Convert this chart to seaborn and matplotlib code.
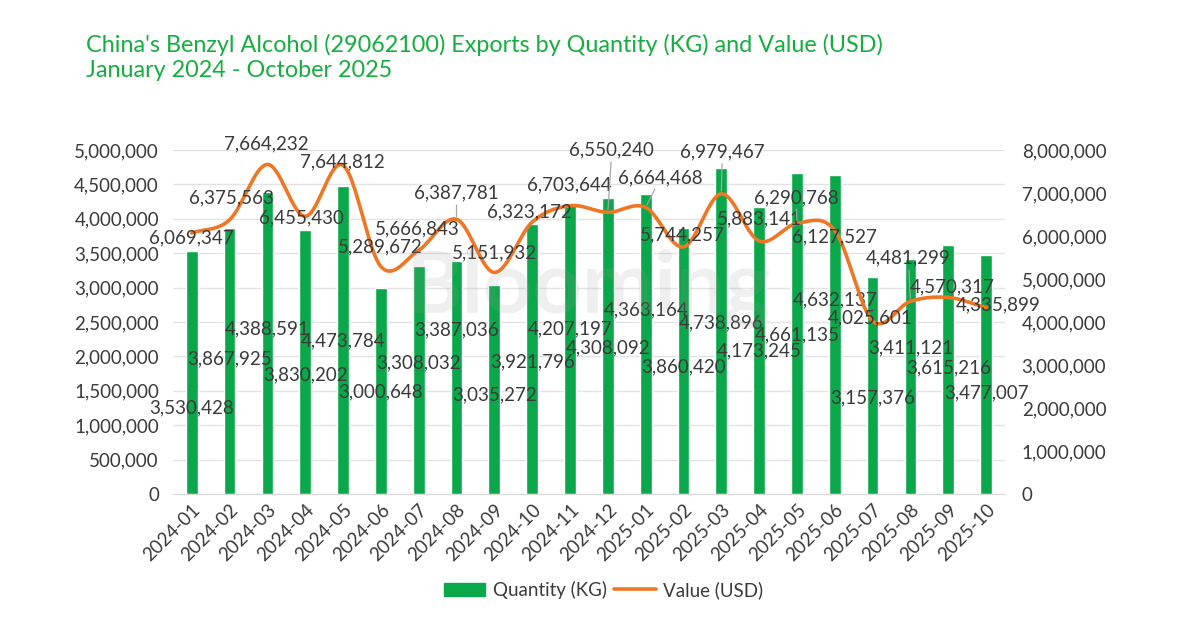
import numpy as np
import pandas as pd
import matplotlib
matplotlib.use("Agg")
import matplotlib.pyplot as plt
import seaborn as sns

# Data
months = ['2024-01', '2024-02', '2024-03', '2024-04', '2024-05', '2024-06',
          '2024-07', '2024-08', '2024-09', '2024-10', '2024-11', '2024-12',
          '2025-01', '2025-02', '2025-03', '2025-04', '2025-05', '2025-06',
          '2025-07', '2025-08', '2025-09', '2025-10']
quantity_kg = [3530428, 3867925, 4388591, 3830202, 4473784, 3000648,
               3308032, 3387036, 3035272, 3921796, 4207197, 4308092,
               4363164, 3860420, 4738896, 4173245, 4661135, 4632137,
               3157376, 3411121, 3615216, 3477007]
value_usd = [6069347, 6375563, 7664232, 6455430, 7644812, 5289672,
             5666843, 6387781, 5151932, 6323172, 6703644, 6550240,
             6664468, 5744257, 6979467, 5883141, 6290768, 6127527,
             4025601, 4481299, 4570317, 4335899]

# Label placement (layout only)
qty_label_y = [1.25e6, 1.96e6, 2.40e6, 1.73e6, 2.22e6, 1.48e6, 1.90e6, 2.38e6,
               1.44e6, 1.92e6, 2.40e6, 2.12e6, 2.67e6, 1.85e6, 2.49e6, 2.08e6,
               2.31e6, 2.82e6, 1.40e6, 2.12e6, 1.83e6, 1.47e6]
val_label_off = [(0, -5), (2, 22), (-1, 21), (-4, -1), (-1, 3), (-1, 20),
                 (-1, 21), (0, 26), (0, 20), (-3, 10), (-1, 21), (4, 62),
                 (15, 30), (-1, 12), (1, 42), (0, 22), (-1, 26), (0, -6),
                 (-2, 3), (-2, 43), (4, 11), (12, 3)]

GREEN = '#0AA84A'
ORANGE = '#EF7624'
TEXT = '#3A3A3A'

sns.set_style('white')
plt.rcParams['font.family'] = ['Lato', 'DejaVu Sans']

df = pd.DataFrame({'month': months, 'quantity': quantity_kg, 'value': value_usd})

fig = plt.figure(figsize=(12, 6.21), dpi=100)
ax = fig.add_axes([0.144, 0.2045, 0.6935, 0.554])

sns.barplot(data=df, x='month', y='quantity', color=GREEN, width=0.31,
            saturation=1, ax=ax, zorder=2)
ax.set_ylim(0, 5e6)
ax.set_xlim(-0.5, len(months) - 0.5)
ax.set_yticks(np.arange(0, 5e6 + 1, 5e5))
ax.yaxis.set_major_formatter(matplotlib.ticker.FuncFormatter(lambda v, p: f'{v:,.0f}'))
ax.grid(axis='y', color='#E3E3E3', linewidth=1, zorder=0)
ax.set_axisbelow(True)
ax.set_xlabel('')
ax.set_ylabel('')
for s in ['top', 'right', 'left']:
    ax.spines[s].set_visible(False)
ax.spines['bottom'].set_color('#D9D9D9')
ax.tick_params(axis='y', length=0, labelsize=13.5, labelcolor=TEXT, pad=10)
ax.tick_params(axis='x', length=0, labelsize=13.5, labelcolor=TEXT, pad=5)
for lab in ax.get_xticklabels():
    lab.set_rotation(45)
    lab.set_ha('right')
    lab.set_rotation_mode('anchor')

ax2 = ax.twinx()
ax2.set_ylim(0, 8e6)
ax2.set_yticks(np.arange(0, 8e6 + 1, 1e6))
ax2.yaxis.set_major_formatter(matplotlib.ticker.FuncFormatter(lambda v, p: f'{v:,.0f}'))
ax2.tick_params(axis='y', length=0, labelsize=13.5, labelcolor=TEXT, pad=12)
for s in ax2.spines.values():
    s.set_visible(False)

# smooth line through the monthly values (Catmull-Rom)
x = np.arange(len(months), dtype=float)
y = np.array(value_usd, dtype=float)
px = np.concatenate([[2 * x[0] - x[1]], x, [2 * x[-1] - x[-2]]])
py = np.concatenate([[2 * y[0] - y[1]], y, [2 * y[-1] - y[-2]]])
t = np.linspace(0, 1, 20)[:-1]
sx, sy = [], []
for i in range(1, len(px) - 2):
    for arr, out in ((px, sx), (py, sy)):
        p0, p1, p2, p3 = arr[i - 1], arr[i], arr[i + 1], arr[i + 2]
        out.extend(0.5 * ((2 * p1) + (-p0 + p2) * t + (2 * p0 - 5 * p1 + 4 * p2 - p3) * t ** 2
                          + (-p0 + 3 * p1 - 3 * p2 + p3) * t ** 3))
sx.append(x[-1])
sy.append(y[-1])
ax2.plot(sx, sy, color=ORANGE, linewidth=2.6, solid_capstyle='round', zorder=3)

# bar labels
for i, (q, ly) in enumerate(zip(quantity_kg, qty_label_y)):
    ax.text(i, ly, f'{q:,}', ha='center', va='center', fontsize=13.5, color=TEXT, zorder=5)

# line labels
for i, (v, off) in enumerate(zip(value_usd, val_label_off)):
    arrow = None
    if off[1] > 25:
        arrow = dict(arrowstyle='-', color='#A6A6A6', lw=0.9, shrinkA=0, shrinkB=2)
    ax2.annotate(f'{v:,}', xy=(i, v), xytext=off, textcoords='offset pixels',
                 ha='center', va='center', fontsize=13.5, color=TEXT,
                 arrowprops=arrow, zorder=6)

# watermark
fig.text(0.49, 0.535, 'Blooming', ha='center', va='center', fontsize=62,
         fontweight='bold', color='#9A9A9A', alpha=0.15, zorder=0)

# title
fig.text(0.0717, 0.945, "China's Benzyl Alcohol (29062100) Exports by Quantity (KG) and Value (USD)\n"
         "January 2024 - October 2025", ha='left', va='top', fontsize=16.8,
         color='#14AE3E', linespacing=1.2)

# legend
handles = [matplotlib.patches.Patch(color=GREEN, label='Quantity (KG)'),
           matplotlib.lines.Line2D([], [], color=ORANGE, lw=2.6, label='Value (USD)')]
fig.legend(handles=handles, loc='center', bbox_to_anchor=(0.503, 0.05), ncol=2,
           frameon=False, fontsize=13.5, handlelength=2.2, handletextpad=0.4,
           columnspacing=0.4, labelcolor=TEXT)

fig.savefig('out.png', dpi=100)
